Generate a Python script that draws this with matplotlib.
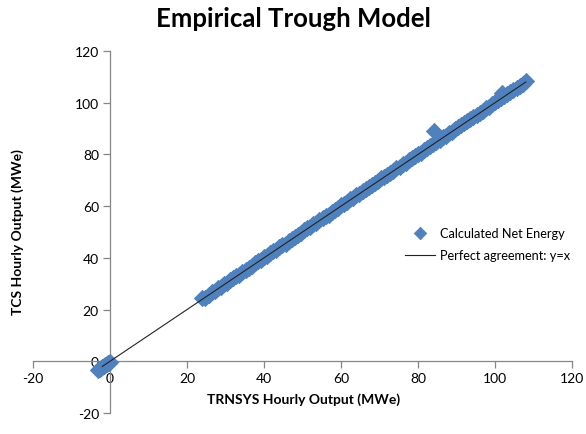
import matplotlib
matplotlib.use("Agg")
import matplotlib.pyplot as plt

plt.rcParams['font.family'] = ['Lato', 'DejaVu Sans']

# Calculated net energy points (TRNSYS x, TCS y)
trnsys = [-3.2, -2.8, -2.4, -2.0, -1.6, -1.2, -0.8, -0.4, 0.0, -0.2, -2.6,
          24.0, 24.8, 25.6, 26.4, 27.2, 28.0, 28.8, 29.6, 30.4, 31.2,
          32.0, 32.8, 33.6, 34.4, 35.2, 36.0, 36.8, 37.6, 38.4, 39.2,
          40.0, 40.8, 41.6, 42.4, 43.2, 44.0, 44.8, 45.6, 46.4, 47.2,
          48.0, 48.8, 49.6, 50.4, 51.2, 52.0, 52.8, 53.6, 54.4, 55.2,
          56.0, 56.8, 57.6, 58.4, 59.2, 60.0, 60.8, 61.6, 62.4, 63.2,
          64.0, 64.8, 65.6, 66.4, 67.2, 68.0, 68.8, 69.6, 70.4, 71.2,
          72.0, 72.8, 73.6, 74.4, 75.2, 76.0, 76.8, 77.6, 78.4, 79.2,
          80.0, 80.8, 81.6, 82.4, 83.2, 84.0, 84.8, 85.6, 86.4, 87.2,
          88.0, 88.8, 89.6, 90.4, 91.2, 92.0, 92.8, 93.6, 94.4, 95.2,
          96.0, 96.8, 97.6, 98.4, 99.2, 100.0, 100.8, 101.6, 102.4, 103.2,
          104.0, 104.8, 105.6, 106.4, 107.2, 108.0,
          84.2, 101.8]
tcs = [-3.4, -3.0, -2.5, -2.1, -1.7, -1.3, -0.9, -0.5, -0.1, -0.6, -2.9,
       24.3, 24.6, 25.7, 26.8, 27.1, 28.2, 28.8, 29.9, 30.1, 31.3,
       32.2, 33.0, 33.5, 34.6, 35.4, 36.1, 36.7, 37.9, 38.6, 39.1,
       40.3, 40.7, 41.9, 42.5, 43.1, 44.3, 44.9, 45.5, 46.7, 47.3,
       48.1, 49.0, 49.5, 50.6, 51.4, 52.0, 53.1, 53.5, 54.6, 55.3,
       56.3, 56.7, 57.8, 58.5, 59.1, 60.3, 60.9, 61.5, 62.7, 63.2,
       64.2, 64.7, 65.9, 66.5, 67.4, 68.0, 69.1, 69.6, 70.7, 71.3,
       72.1, 73.0, 73.5, 74.6, 75.3, 76.2, 76.7, 77.9, 78.5, 79.3,
       80.2, 80.7, 81.8, 82.4, 83.4, 84.0, 85.0, 85.6, 86.7, 87.3,
       88.3, 88.7, 89.8, 90.5, 91.3, 92.1, 92.9, 93.7, 94.5, 95.4,
       96.2, 96.9, 97.8, 98.5, 99.4, 100.1, 101.0, 101.7, 102.6, 103.3,
       104.2, 105.0, 105.8, 106.5, 107.4, 108.3,
       89.0, 103.9]

# Perfect agreement line y = x
line_x = [-2.0, 108.0]
line_y = [-2.0, 108.0]

ticks = [-20, 0, 20, 40, 60, 80, 100, 120]

fig = plt.figure(figsize=(5.86, 4.35), dpi=100)
ax = fig.add_axes([33/586, 1 - 414/435, (572-33)/586, (414-52)/435])

ax.scatter(trnsys, tcs, marker='D', s=68, color='#4F81BD', edgecolors='#4F81BD',
           linewidths=0.6, zorder=3, label='Calculated Net Energy')
ax.plot(line_x, line_y, color='#222222', lw=0.8, zorder=4,
        label='Perfect agreement: y=x')

ax.set_xlim(-20, 120)
ax.set_ylim(-20, 120)
ax.set_xticks(ticks)
ax.set_yticks(ticks)
ax.set_xticklabels([str(t) for t in ticks])
ax.set_yticklabels([str(t) for t in ticks])

for s in ['top', 'right']:
    ax.spines[s].set_visible(False)
ax.spines['left'].set_position(('data', 0))
ax.spines['bottom'].set_position(('data', 0))
for s in ['left', 'bottom']:
    ax.spines[s].set_color('#868686')
    ax.spines[s].set_linewidth(0.9)
ax.tick_params(axis='both', direction='out', length=5, width=0.9,
               color='#868686', labelsize=10, labelcolor='#000000', pad=3)

fig.text(293/586, 1 - 19/435, 'Empirical Trough Model', ha='center', va='center',
         fontsize=18.5, fontweight='bold')
fig.text(304/586, 1 - 400/435, 'TRNSYS Hourly Output (MWe)', ha='center',
         va='center', fontsize=10, fontweight='bold')
fig.text(18/586, 1 - 232/435, 'TCS Hourly Output (MWe)', ha='center',
         va='center', rotation=90, fontsize=10, fontweight='bold')

leg = fig.legend(loc='center left', bbox_to_anchor=(393/586, 1 - 245/435),
                 frameon=False, fontsize=9.2, handlelength=2.35,
                 handletextpad=0.45, labelspacing=0.85, scatterpoints=1,
                 borderpad=0.4)
leg.legend_handles[0].set_sizes([40])

fig.savefig('out.png', dpi=100)
